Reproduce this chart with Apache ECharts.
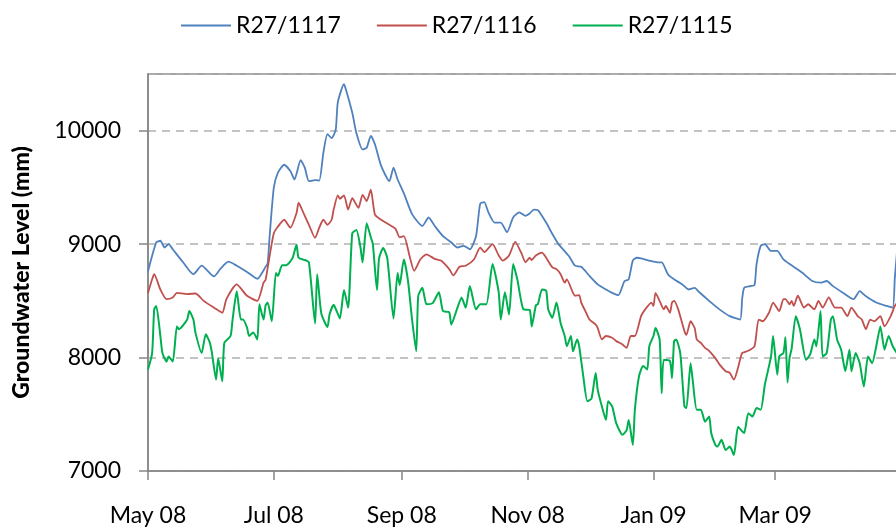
<!DOCTYPE html>
<html>
<head>
<meta charset="utf-8">
<script src="https://cdn.jsdelivr.net/npm/echarts@6/dist/echarts.min.js"></script>
<style>
  html, body { margin: 0; padding: 0; background: #fff; }
  #chart { width: 896px; height: 527px; }
</style>
</head>
<body>
<div id="chart"></div>
<script>
// days since 1 May 2008
const blueDays = [0,4,6,8,10,12,17,22,26,32,35,39,43,48,53,57,58,59,61,63,66,69,71,74,76,78,81,83,85,87,89,91,92,95,96,99,101,104,106,108,110,113,117,119,121,124,128,133,136,139,143,147,150,153,156,159,161,163,165,168,171,174,177,180,183,185,187,189,193,196,199,204,207,210,214,218,222,225,228,230,231,233,235,237,240,244,247,249,252,255,259,262,265,267,272,277,282,287,288,289,292,294,295,297,299,302,305,308,311,317,322,326,329,332,337,342,345,348,353,358,361,362,363]
const blueLevels = [8760,9015,9030,8970,9000,8955,8840,8735,8810,8715,8780,8845,8810,8755,8695,8800,8830,9080,9500,9630,9700,9645,9570,9740,9675,9555,9565,9560,9805,9970,9935,10010,10250,10410,10360,10160,9980,9835,9850,9955,9880,9690,9555,9675,9570,9450,9265,9160,9235,9160,9070,9015,8970,8985,8955,9070,9355,9370,9280,9190,9190,9105,9235,9280,9250,9270,9305,9300,9190,9090,9000,8895,8810,8800,8720,8645,8600,8570,8550,8630,8675,8690,8855,8880,8870,8850,8840,8840,8735,8690,8645,8600,8615,8580,8500,8425,8365,8335,8515,8615,8630,8640,8825,8985,9000,8940,8940,8865,8825,8750,8675,8660,8675,8630,8570,8515,8585,8540,8485,8455,8440,8700,8920]

const redDays = [0,2,3,6,9,12,14,19,23,27,32,36,38,43,48,53,56,57,59,61,63,66,69,72,73,75,78,81,83,85,87,89,90,92,93,95,97,99,102,104,106,108,110,113,117,120,122,124,127,129,132,135,139,142,146,148,151,154,158,161,163,167,170,172,175,178,181,183,185,186,188,191,193,196,198,200,202,203,206,207,209,210,212,214,217,218,220,222,225,227,230,232,234,236,239,241,244,245,246,248,250,251,253,254,255,257,260,261,263,265,266,268,270,272,275,277,280,282,284,286,288,291,294,296,298,301,303,306,308,309,311,312,313,315,318,320,323,325,327,330,333,336,339,341,344,346,348,350,352,355,357,360,362,363]
const redLevels = [8570,8690,8735,8600,8515,8530,8570,8560,8565,8500,8440,8395,8515,8645,8545,8500,8660,8685,8900,9095,9155,9215,9145,9275,9365,9290,9170,9055,9145,9215,9170,9215,9305,9430,9400,9430,9305,9405,9320,9435,9380,9480,9260,9215,9170,9135,9060,9070,8880,8765,8865,8910,8870,8855,8780,8725,8800,8810,8865,8970,8930,9000,8900,8855,8900,9020,8920,8840,8880,8860,8900,8925,8880,8795,8780,8735,8660,8690,8570,8545,8550,8485,8410,8335,8290,8260,8160,8190,8175,8145,8115,8085,8190,8190,8365,8425,8485,8455,8570,8500,8425,8455,8395,8485,8500,8425,8235,8200,8320,8260,8160,8130,8085,8060,7995,7940,7880,7865,7805,7910,8040,8060,8100,8335,8320,8395,8485,8410,8515,8515,8470,8500,8455,8545,8440,8470,8425,8500,8440,8530,8440,8440,8365,8440,8365,8335,8250,8335,8320,8365,8275,8365,8455,8480]

const greenDays = [0,2,3,4,6,7,9,10,12,14,15,19,20,22,23,26,28,30,31,33,34,36,37,40,41,43,45,46,48,49,51,53,54,56,57,58,60,62,63,65,67,70,72,73,76,78,81,82,84,87,88,90,91,93,95,97,99,101,103,104,106,108,109,111,112,114,116,119,121,122,124,126,128,130,131,133,135,138,141,143,146,147,150,152,154,156,159,161,164,167,170,171,173,175,177,179,182,185,186,188,189,191,193,194,196,198,200,202,203,205,206,208,209,211,213,215,217,218,220,222,223,225,227,230,232,233,235,236,238,240,242,243,245,246,248,249,250,253,254,255,256,258,260,261,263,264,266,268,270,272,273,275,276,278,280,282,284,286,288,289,291,293,295,297,299,302,303,305,306,308,309,310,311,312,314,316,319,321,323,324,326,327,329,331,332,334,336,338,340,341,343,345,347,349,351,353,355,357,359,361,363]
const greenLevels = [7895,8040,8425,8455,8190,8040,7965,8010,7965,8275,8250,8335,8410,8335,8220,8040,8205,8130,8040,7805,7995,7790,8130,8190,8335,8585,8335,8335,8265,8190,8220,8160,8470,8335,8460,8485,8320,8745,8720,8815,8815,8875,8995,8880,8860,8840,8300,8735,8390,8270,8380,8465,8430,8345,8595,8440,9095,9125,8970,8840,9185,9060,9000,8595,8875,8965,8875,8345,8745,8640,8865,8680,8335,8055,8545,8615,8470,8480,8575,8410,8400,8290,8440,8530,8440,8630,8425,8470,8470,8825,8575,8335,8575,8380,8825,8690,8425,8420,8275,8460,8470,8600,8590,8425,8350,8485,8305,8190,8100,8190,8055,8160,8100,7835,7615,7640,7865,7715,7570,7450,7615,7570,7420,7320,7360,7450,7230,7540,7835,7925,7895,8100,8190,8260,8160,7685,7980,7970,7820,8145,8160,8040,7570,7555,7950,7805,7540,7540,7435,7480,7335,7230,7215,7275,7185,7215,7140,7390,7350,7335,7510,7480,7555,7540,7760,8010,8190,7850,8010,8040,8180,7780,8000,8080,8365,8250,7980,8030,8160,8100,8410,8010,8040,8335,8365,8160,8070,7880,8070,7880,8040,7950,7745,8010,7950,8100,8275,8070,8190,8100,8040]

const seriesNames = ['R27/1117', 'R27/1116', 'R27/1115']
const monthNames = ['Jan','Feb','Mar','Apr','May','Jun','Jul','Aug','Sep','Oct','Nov','Dec']

// one category per day, 1 May 2008 .. 1 May 2009
const dayDates = []
for (let i = 0; i <= 365; i++) dayDates.push(new Date(2008, 4, 1 + i))
const dayLabels = dayDates.map((d) => monthNames[d.getMonth()] + ' ' + String(d.getFullYear()).slice(2))
const isTickDay = (i) => dayDates[i].getDate() === 1 && dayDates[i].getMonth() % 2 === 0

const pairs = (days, vals) => days.map((d, i) => [d, vals[i]])

const font = 'Lato'
const axisGrey = '#868686'

const chart = echarts.init(document.getElementById('chart'), null, { renderer: 'canvas' })
chart.setOption({
    animation: false,
    color: ['#4F81BD', '#C0504D', '#00B050'],
    legend: {
        data: seriesNames,
        left: 176,
        top: 9,
        icon: 'rect',
        itemWidth: 50,
        itemHeight: 2,
        itemGap: 36,
        textStyle: { fontFamily: font, fontSize: 23, color: '#000' },
    },
    grid: {
        left: 148,
        right: -5,
        top: 74,
        bottom: 56,
        outerBoundsMode: 'none',
        containLabel: false,
        show: true,
        borderColor: axisGrey,
        borderWidth: 1.5,
    },
    xAxis: {
        type: 'category',
        data: dayLabels,
        boundaryGap: false,
        axisLine: { lineStyle: { color: axisGrey, width: 1.5 } },
        axisTick: { interval: (i) => isTickDay(i), length: 9, lineStyle: { color: axisGrey, width: 1.5 } },
        axisLabel: {
            // the May 09 tick sits past the right edge of the picture
            interval: (i) => isTickDay(i) && i < 365,
            margin: 33,
            fontFamily: font,
            fontSize: 23,
            color: '#000',
        },
        splitLine: { show: false },
    },
    yAxis: {
        type: 'value',
        min: 7000,
        max: 10500,
        interval: 1000,
        name: 'Groundwater Level (mm)',
        nameLocation: 'middle',
        nameGap: 115,
        nameTextStyle: { fontFamily: font, fontSize: 23, fontWeight: 900, color: '#000' },
        axisLine: { show: true, lineStyle: { color: axisGrey, width: 1.5 } },
        axisTick: { show: true, length: 9, lineStyle: { color: axisGrey, width: 1.5 } },
        axisLabel: {
            margin: 27,
            fontFamily: font,
            fontSize: 23,
            color: '#000',
            showMaxLabel: false,
            formatter: (v) => String(v),
        },
        splitLine: { lineStyle: { color: '#b0b0b0', type: [8, 6], width: 1.5 } },
    },
    series: [
        { name: seriesNames[0], type: 'line', data: pairs(blueDays, blueLevels), showSymbol: false, smooth: 0.2, lineStyle: { width: 1.8 } },
        { name: seriesNames[1], type: 'line', data: pairs(redDays, redLevels), showSymbol: false, smooth: 0.2, lineStyle: { width: 1.8 } },
        { name: seriesNames[2], type: 'line', data: pairs(greenDays, greenLevels), showSymbol: false, smooth: 0.2, lineStyle: { width: 2 } },
    ],
})
</script>
</body>
</html>
